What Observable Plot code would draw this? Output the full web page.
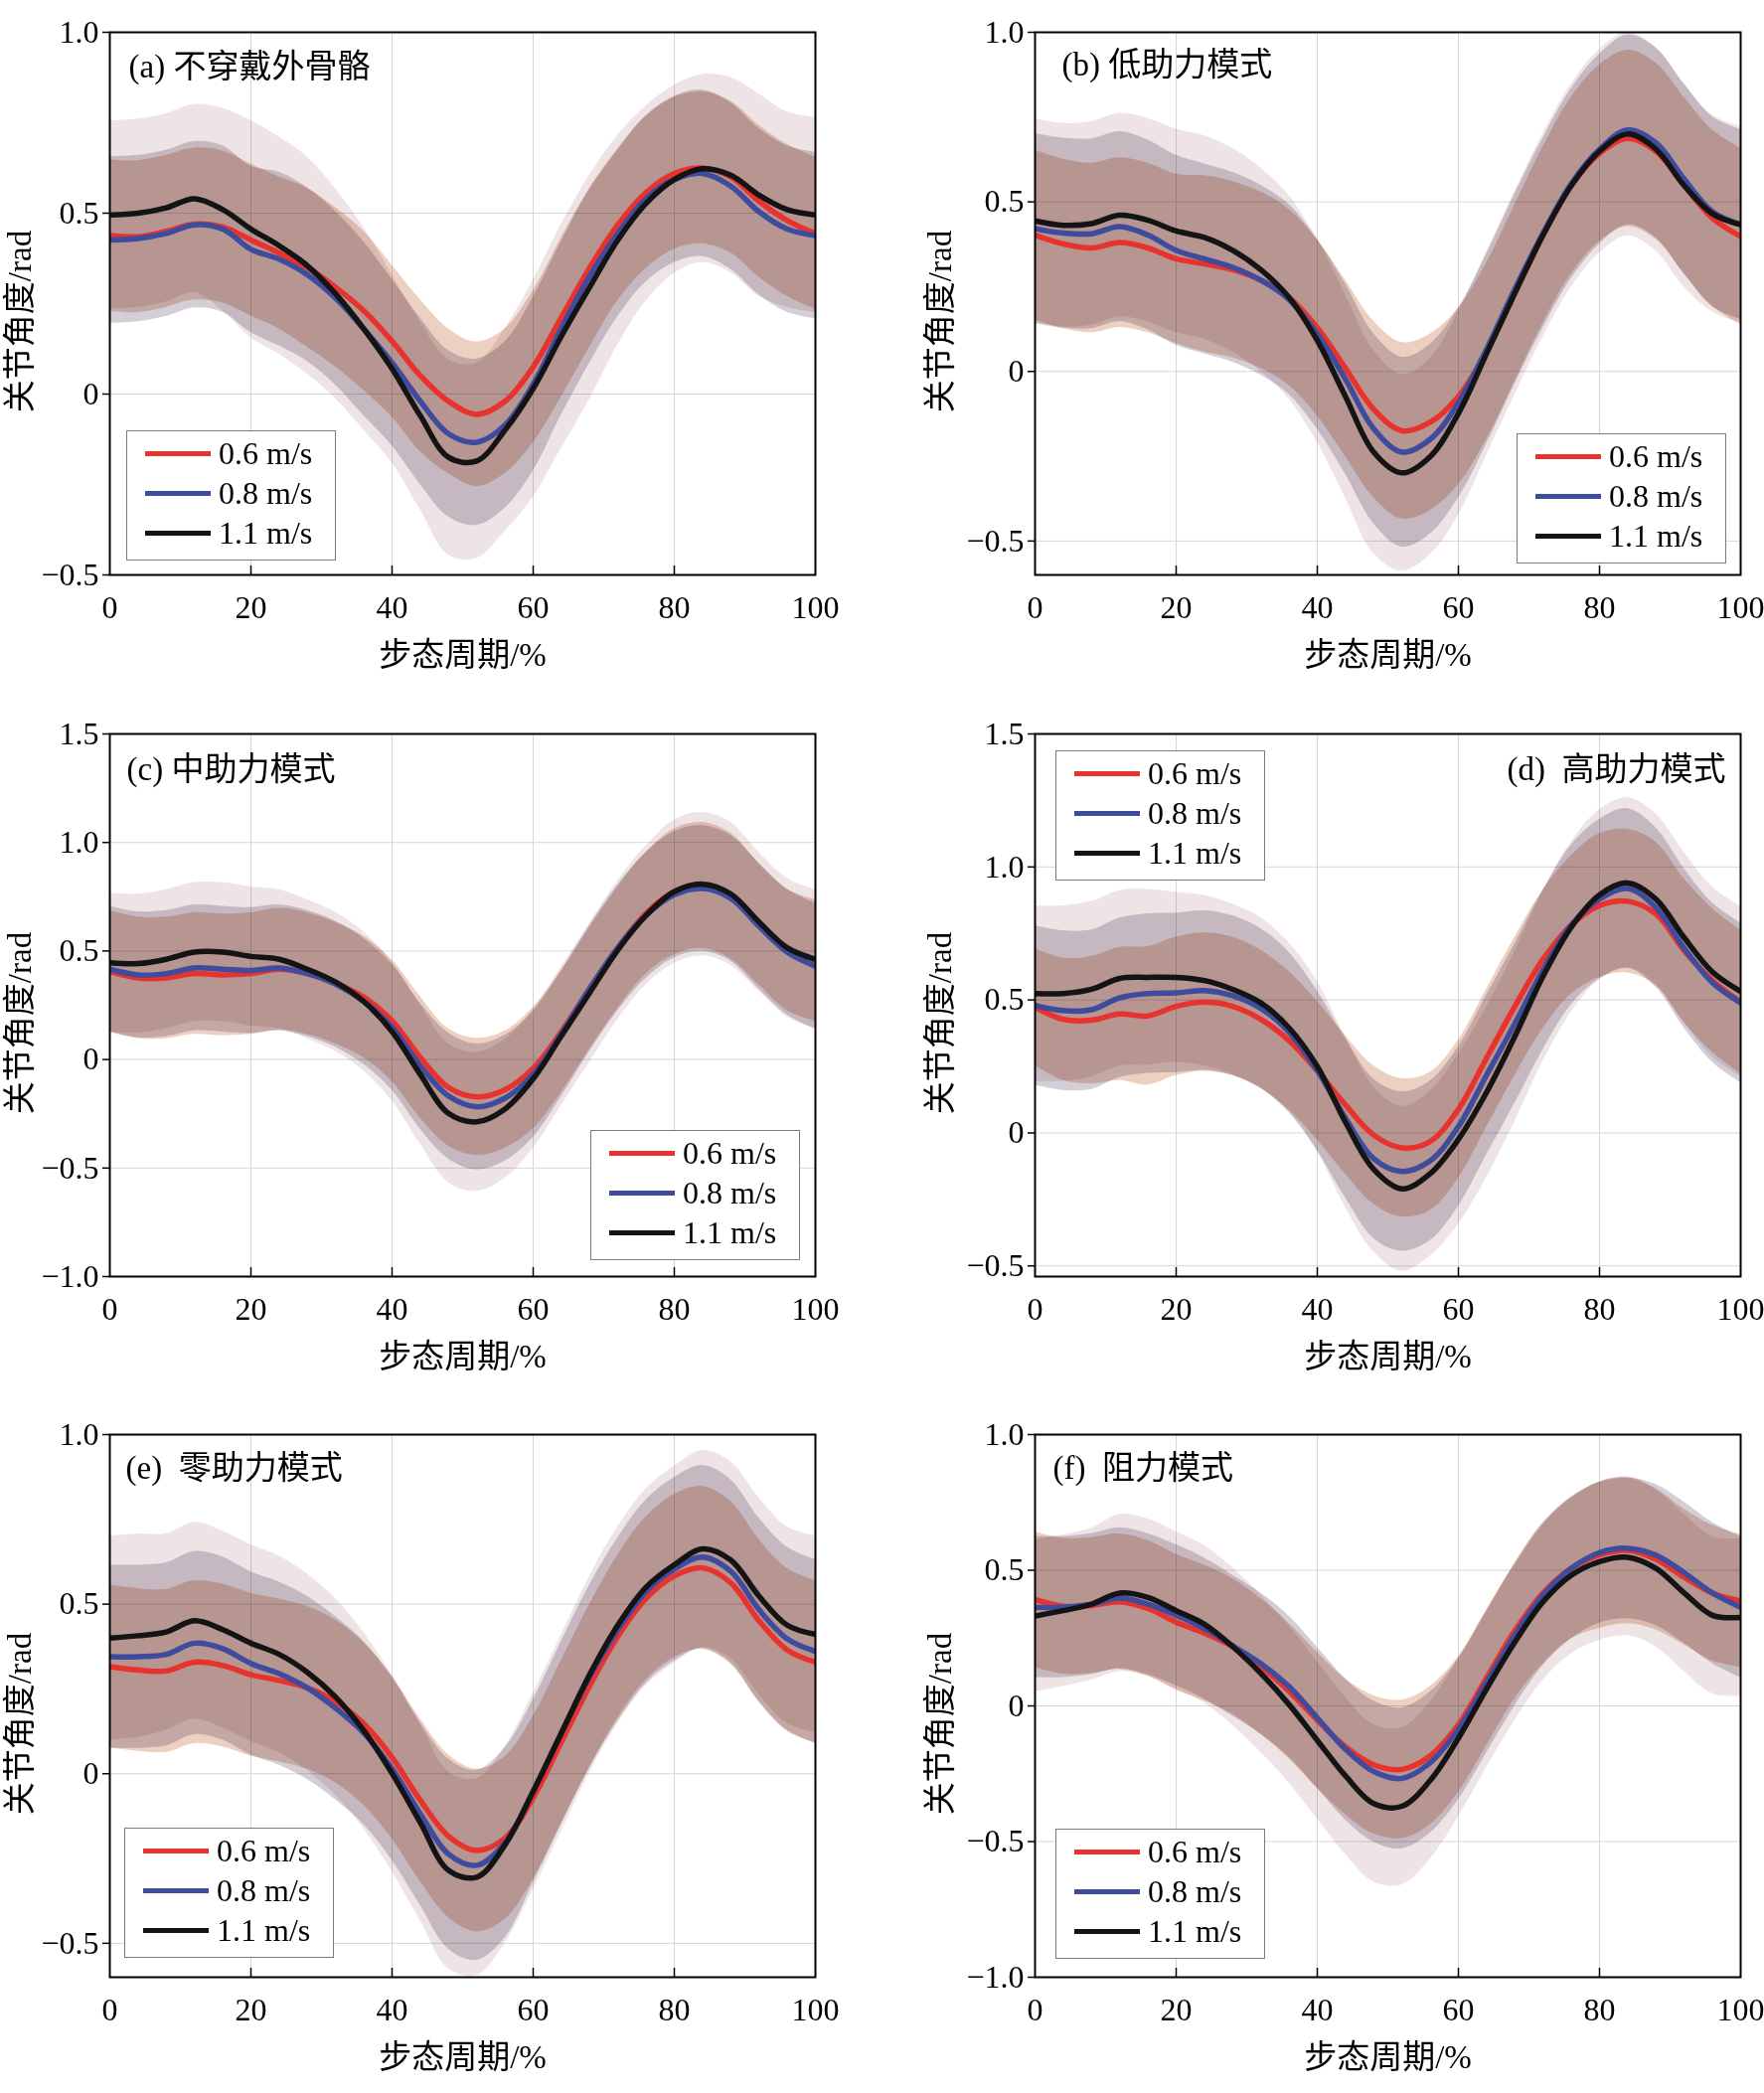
<!DOCTYPE html>
<html>
<head>
<meta charset="utf-8">
<script src="https://cdn.jsdelivr.net/npm/d3@7"></script>
<script src="https://cdn.jsdelivr.net/npm/@observablehq/plot@0.6"></script>
<style>
  body { margin: 0; background: #fff; }
  #wrap { position: relative; width: 1775px; height: 2106px; overflow: hidden; background: #fff;
          font-family: 'Liberation Serif', 'Noto Sans CJK SC', serif; }
  .panel { position: absolute; }
  .legend { position: absolute; background: #fff; border: 1.5px solid #7a7a7a; box-sizing: border-box; }
  .legend .row { position: absolute; left: 0; height: 40px; width: 100%; }
  .legend .sw { position: absolute; left: 18px; width: 66px; height: 5px; top: 17.5px; }
  .legend .lb { position: absolute; left: 92px; top: 0; height: 40px; line-height: 40px; font-size: 32px; color: #000; white-space: nowrap; }
</style>
</head>
<body>
<div id="wrap"></div>
<script>
// ---------------- data ----------------
const xs = [0,4,8,12,16,20,24,28,32,36,40,44,48,52,56,60,64,68,72,76,80,84,88,92,96,100];
const speeds = ["0.6 m/s", "0.8 m/s", "1.1 m/s"];
const lineColors = ["#e8322d", "#3f4c9e", "#141414"];
const bandColors = ["#ecd0c2", "#d4ced6", "#eee4e5"];
const titles = ["(a) 不穿戴外骨骼", "(b) 低助力模式", "(c) 中助力模式", "(d)\u00a0 高助力模式", "(e)\u00a0 零助力模式", "(f)\u00a0 阻力模式"];
const xTicks = [0, 20, 40, 60, 80, 100];
const xLabel = "步态周期/%";
const yLabel = "关节角度/rad";

// (a) 不穿戴外骨骼
const meanA06 = [0.438,0.435,0.45,0.47,0.462,0.426,0.39,0.349,0.295,0.23,0.146,0.051,-0.02,-0.056,-0.02,0.075,0.212,0.349,0.468,0.557,0.61,0.625,0.60,0.533,0.48,0.444];
const meanA08 = [0.426,0.43,0.444,0.468,0.456,0.40,0.373,0.33,0.265,0.18,0.087,-0.02,-0.11,-0.133,-0.086,0.027,0.182,0.325,0.444,0.54,0.593,0.61,0.575,0.504,0.456,0.438];
const meanA11 = [0.495,0.50,0.515,0.54,0.51,0.456,0.41,0.355,0.277,0.18,0.07,-0.06,-0.175,-0.185,-0.10,0.015,0.16,0.295,0.426,0.527,0.593,0.623,0.605,0.55,0.51,0.495];
const sdA06 = [0.21,0.21,0.21,0.21,0.21,0.21,0.21,0.22,0.22,0.22,0.21,0.21,0.2,0.2,0.2,0.21,0.22,0.22,0.21,0.21,0.21,0.21,0.21,0.21,0.21,0.21];
const sdA08 = [0.23,0.23,0.23,0.23,0.23,0.23,0.24,0.24,0.24,0.24,0.23,0.23,0.23,0.23,0.23,0.24,0.24,0.24,0.23,0.23,0.23,0.23,0.23,0.23,0.23,0.23];
const sdA11 = [0.26,0.26,0.26,0.26,0.28,0.30,0.30,0.30,0.29,0.28,0.26,0.26,0.27,0.27,0.28,0.30,0.31,0.31,0.29,0.27,0.26,0.26,0.27,0.28,0.27,0.27];

// (b) 低助力模式
const meanB06 = [0.402,0.376,0.364,0.38,0.364,0.332,0.317,0.30,0.269,0.218,0.129,0.009,-0.112,-0.175,-0.15,-0.074,0.06,0.231,0.402,0.548,0.643,0.687,0.649,0.548,0.452,0.398];
const meanB08 = [0.421,0.408,0.406,0.427,0.402,0.357,0.332,0.307,0.269,0.212,0.11,-0.023,-0.169,-0.238,-0.20,-0.093,0.066,0.243,0.408,0.554,0.655,0.712,0.674,0.567,0.471,0.433];
const meanB11 = [0.444,0.431,0.436,0.461,0.446,0.414,0.395,0.357,0.30,0.218,0.091,-0.074,-0.238,-0.299,-0.251,-0.124,0.053,0.231,0.402,0.548,0.649,0.70,0.655,0.548,0.465,0.433];
const sdB06 = [0.25,0.25,0.25,0.25,0.25,0.25,0.26,0.26,0.26,0.26,0.26,0.26,0.26,0.26,0.26,0.26,0.26,0.26,0.26,0.26,0.26,0.26,0.26,0.26,0.26,0.26];
const sdB08 = [0.28,0.28,0.28,0.28,0.28,0.28,0.28,0.28,0.28,0.28,0.28,0.28,0.28,0.28,0.28,0.28,0.28,0.28,0.28,0.28,0.28,0.28,0.28,0.28,0.28,0.28];
const sdB11 = [0.30,0.30,0.30,0.30,0.30,0.30,0.30,0.30,0.30,0.30,0.30,0.30,0.30,0.29,0.29,0.30,0.30,0.30,0.30,0.30,0.30,0.30,0.30,0.30,0.29,0.29];

// (c) 中助力模式
const meanC06 = [0.406,0.376,0.376,0.396,0.39,0.396,0.416,0.396,0.351,0.287,0.178,0.01,-0.129,-0.172,-0.139,-0.04,0.129,0.327,0.515,0.674,0.773,0.802,0.753,0.624,0.505,0.456];
const meanC08 = [0.416,0.39,0.396,0.422,0.416,0.41,0.422,0.396,0.347,0.267,0.149,-0.03,-0.168,-0.218,-0.178,-0.069,0.119,0.327,0.515,0.664,0.759,0.788,0.743,0.614,0.495,0.43];
const meanC11 = [0.446,0.442,0.462,0.495,0.495,0.475,0.462,0.416,0.357,0.267,0.129,-0.069,-0.248,-0.287,-0.228,-0.089,0.109,0.307,0.505,0.664,0.773,0.808,0.763,0.634,0.515,0.462];
const sdC06 = [0.28,0.28,0.28,0.28,0.28,0.28,0.28,0.28,0.28,0.28,0.28,0.28,0.27,0.27,0.27,0.28,0.28,0.28,0.28,0.28,0.29,0.29,0.29,0.28,0.28,0.28];
const sdC08 = [0.29,0.29,0.29,0.29,0.29,0.29,0.29,0.29,0.29,0.29,0.29,0.29,0.29,0.29,0.29,0.29,0.29,0.29,0.29,0.29,0.29,0.29,0.29,0.29,0.29,0.29];
const sdC11 = [0.32,0.32,0.32,0.32,0.32,0.32,0.32,0.32,0.32,0.32,0.32,0.32,0.32,0.32,0.32,0.32,0.32,0.32,0.32,0.32,0.33,0.33,0.33,0.32,0.32,0.32];

// (d) 高助力模式
const meanD06 = [0.473,0.427,0.424,0.447,0.44,0.476,0.492,0.476,0.427,0.347,0.234,0.105,-0.008,-0.056,-0.032,0.089,0.282,0.476,0.653,0.782,0.855,0.871,0.823,0.685,0.573,0.492];
const meanD08 = [0.479,0.46,0.463,0.508,0.524,0.527,0.535,0.516,0.468,0.379,0.234,0.056,-0.097,-0.145,-0.105,0.024,0.218,0.411,0.613,0.782,0.879,0.919,0.847,0.694,0.565,0.489];
const meanD11 = [0.524,0.524,0.54,0.581,0.585,0.585,0.573,0.54,0.489,0.395,0.25,0.04,-0.137,-0.21,-0.153,-0.024,0.153,0.363,0.589,0.774,0.895,0.94,0.879,0.734,0.605,0.532];
const sdD06 = [0.22,0.23,0.24,0.25,0.26,0.26,0.26,0.26,0.26,0.26,0.26,0.26,0.26,0.26,0.26,0.26,0.26,0.26,0.26,0.26,0.27,0.27,0.27,0.27,0.27,0.27];
const sdD08 = [0.30,0.30,0.30,0.30,0.30,0.30,0.30,0.30,0.30,0.30,0.30,0.30,0.30,0.30,0.30,0.30,0.30,0.30,0.30,0.30,0.30,0.30,0.30,0.30,0.30,0.30];
const sdD11 = [0.33,0.33,0.33,0.33,0.33,0.32,0.32,0.32,0.32,0.32,0.32,0.32,0.31,0.31,0.31,0.32,0.32,0.32,0.32,0.32,0.32,0.32,0.32,0.32,0.32,0.32];

// (e) 零助力模式
const meanE06 = [0.316,0.306,0.303,0.329,0.319,0.292,0.275,0.253,0.213,0.147,0.048,-0.078,-0.184,-0.226,-0.19,-0.071,0.094,0.259,0.405,0.517,0.583,0.607,0.563,0.451,0.365,0.329];
const meanE08 = [0.345,0.345,0.352,0.385,0.369,0.325,0.295,0.253,0.193,0.12,0.015,-0.118,-0.237,-0.27,-0.204,-0.052,0.12,0.286,0.425,0.537,0.603,0.639,0.597,0.484,0.398,0.361];
const meanE11 = [0.40,0.407,0.418,0.451,0.425,0.385,0.352,0.299,0.226,0.127,0.001,-0.144,-0.285,-0.305,-0.21,-0.052,0.12,0.292,0.438,0.55,0.616,0.663,0.63,0.524,0.438,0.411];
const sdE06 = [0.24,0.24,0.24,0.24,0.24,0.24,0.24,0.24,0.24,0.24,0.24,0.24,0.24,0.24,0.24,0.24,0.24,0.24,0.24,0.24,0.24,0.24,0.24,0.24,0.24,0.24];
const sdE08 = [0.27,0.27,0.27,0.27,0.27,0.27,0.27,0.27,0.27,0.27,0.27,0.27,0.28,0.28,0.28,0.27,0.27,0.27,0.27,0.27,0.27,0.27,0.27,0.27,0.27,0.27];
const sdE11 = [0.30,0.30,0.29,0.29,0.29,0.29,0.29,0.29,0.29,0.29,0.29,0.29,0.29,0.29,0.29,0.29,0.29,0.29,0.29,0.29,0.29,0.29,0.29,0.29,0.29,0.29];

// (f) 阻力模式
const meanF06 = [0.392,0.367,0.37,0.384,0.359,0.309,0.268,0.219,0.145,0.054,-0.053,-0.151,-0.217,-0.234,-0.184,-0.069,0.104,0.277,0.416,0.507,0.556,0.573,0.54,0.474,0.416,0.387];
const meanF08 = [0.364,0.364,0.375,0.397,0.375,0.334,0.285,0.222,0.156,0.071,-0.044,-0.16,-0.242,-0.267,-0.209,-0.086,0.087,0.26,0.408,0.507,0.565,0.581,0.556,0.491,0.416,0.364];
const meanF11 = [0.331,0.351,0.375,0.416,0.40,0.351,0.301,0.219,0.12,0.005,-0.127,-0.258,-0.36,-0.37,-0.275,-0.119,0.063,0.235,0.384,0.482,0.532,0.548,0.507,0.416,0.334,0.326];
const sdF06 = [0.25,0.25,0.25,0.25,0.25,0.25,0.25,0.25,0.25,0.25,0.25,0.25,0.255,0.255,0.255,0.25,0.25,0.25,0.26,0.26,0.27,0.27,0.26,0.25,0.25,0.245];
const sdF08 = [0.26,0.26,0.26,0.26,0.26,0.26,0.26,0.26,0.26,0.26,0.26,0.26,0.26,0.26,0.26,0.26,0.26,0.26,0.26,0.26,0.26,0.26,0.26,0.26,0.26,0.26];
const sdF11 = [0.28,0.28,0.28,0.29,0.29,0.29,0.29,0.29,0.29,0.29,0.29,0.29,0.29,0.29,0.29,0.29,0.29,0.29,0.29,0.29,0.29,0.29,0.29,0.29,0.29,0.29];

// --------------- layout (styles only) ---------------
const cols = [
  {left: 0,   width: 880, mL: 110, mR: 60,  yLabDx: -90},
  {left: 900, width: 875, mL: 141, mR: 24,  yLabDx: -95}
];
const rowTops = [0, 706, 1411];
const mT = 32, mB = 100, H = 678;

const panels = [
  {col: 0, row: 0, title: titles[0], tAnchor: "left",  tdx: 19, tdy: 35, yDomain: [-0.5, 1.0],  yTicks: [-0.5, 0, 0.5, 1.0], legend: [127, 433],
   means: [meanA06, meanA08, meanA11], sds: [sdA06, sdA08, sdA11]},
  {col: 1, row: 0, title: titles[1], tAnchor: "left",  tdx: 27, tdy: 33, yDomain: [-0.6, 1.0],  yTicks: [-0.5, 0, 0.5, 1.0], legend: [1526, 436],
   means: [meanB06, meanB08, meanB11], sds: [sdB06, sdB08, sdB11]},
  {col: 0, row: 1, title: titles[2], tAnchor: "left",  tdx: 17, tdy: 36, yDomain: [-1.0, 1.5],  yTicks: [-1.0, -0.5, 0, 0.5, 1.0, 1.5], legend: [594, 1137],
   means: [meanC06, meanC08, meanC11], sds: [sdC06, sdC08, sdC11]},
  {col: 1, row: 1, title: titles[3], tAnchor: "right", tdx: -15, tdy: 36, yDomain: [-0.54, 1.5], yTicks: [-0.5, 0, 0.5, 1.0, 1.5], legend: [1062, 755],
   means: [meanD06, meanD08, meanD11], sds: [sdD06, sdD08, sdD11]},
  {col: 0, row: 2, title: titles[4], tAnchor: "left",  tdx: 16, tdy: 34, yDomain: [-0.6, 1.0],  yTicks: [-0.5, 0, 0.5, 1.0], legend: [125, 1839],
   means: [meanE06, meanE08, meanE11], sds: [sdE06, sdE08, sdE11]},
  {col: 1, row: 2, title: titles[5], tAnchor: "left",  tdx: 18, tdy: 34, yDomain: [-1.0, 1.0],  yTicks: [-1.0, -0.5, 0, 0.5, 1.0], legend: [1062, 1840],
   means: [meanF06, meanF08, meanF11], sds: [sdF06, sdF08, sdF11]}
];

const fmtY = d => d === 0 ? "0" : d3.format(".1f")(d);
const wrap = document.getElementById("wrap");

panels.forEach(p => {
  const c = cols[p.col];
  const plotH = H - mT - mB;
  const series = speeds.map((k, si) =>
    xs.map((x, i) => ({x, m: p.means[si][i], s: p.sds[si][i], k})));

  const marks = [
    Plot.ruleX([20, 40, 60, 80], {stroke: "#d6d6d6", strokeWidth: 1}),
    Plot.ruleY(p.yTicks, {stroke: "#d6d6d6", strokeWidth: 1}),
  ];
  // bands: black (1.1), blue (0.8), red (0.6)
  [2, 1, 0].forEach(si => {
    marks.push(Plot.areaY(series[si], {
      x: "x", y1: d => d.m - d.s, y2: d => d.m + d.s,
      fill: bandColors[si], fillOpacity: 1, curve: "catmull-rom",
      mixBlendMode: "multiply", clip: true
    }));
  });
  [0, 1, 2].forEach(si => {
    marks.push(Plot.line(series[si], {
      x: "x", y: "m", stroke: lineColors[si], strokeWidth: 5.5,
      curve: "catmull-rom", clip: true
    }));
  });
  marks.push(
    Plot.frame({stroke: "#000", strokeWidth: 2}),
    Plot.axisY({ticks: p.yTicks, tickSize: 7, tickPadding: 4, tickFormat: fmtY, fontSize: 32, label: null, stroke: "#000", strokeWidth: 1.5}),
    Plot.axisX({ticks: xTicks, tickSize: 0, tickPadding: 21, tickFormat: d => String(d), fontSize: 32, label: null}),
    Plot.tickX([20, 40, 60, 80], {x: d => d, insetTop: plotH - 9, stroke: "#000", strokeWidth: 1.5}),
    Plot.text([p.title], {
      text: d => d, frameAnchor: p.tAnchor === "left" ? "top-left" : "top-right",
      textAnchor: p.tAnchor === "left" ? "start" : "end", lineAnchor: "middle",
      dx: p.tdx, dy: p.tdy, fontSize: 33, fill: "#000"
    }),
    Plot.text([yLabel], {
      text: d => d, frameAnchor: "left", rotate: -90, dx: c.yLabDx, dy: 18,
      textAnchor: "middle", lineAnchor: "middle", fontSize: 33, fill: "#000"
    }),
    Plot.text([xLabel], {
      text: d => d, frameAnchor: "bottom", dy: 81, textAnchor: "middle",
      lineAnchor: "middle", fontSize: 33, fill: "#000"
    })
  );

  const chart = Plot.plot({
    width: c.width, height: H,
    marginLeft: c.mL, marginRight: c.mR, marginTop: mT, marginBottom: mB,
    x: {domain: [0, 100]},
    y: {domain: p.yDomain},
    style: {fontFamily: "'Liberation Serif', 'Noto Sans CJK SC', serif", fontSize: "32px", background: "transparent", overflow: "visible", color: "#000"},
    marks
  });
  // bands blend multiplicatively (overlaps darken, as in the reference)
  chart.querySelectorAll('g[aria-label="area"]').forEach(g => {
    g.style.mixBlendMode = "multiply";
  });
  const holder = document.createElement("div");
  holder.className = "panel";
  holder.style.left = c.left + "px";
  holder.style.top = rowTops[p.row] + "px";
  holder.appendChild(chart);
  wrap.appendChild(holder);

  // legend (HTML, over the plot)
  const lg = document.createElement("div");
  lg.className = "legend";
  lg.style.left = p.legend[0] + "px";
  lg.style.top = p.legend[1] + "px";
  lg.style.width = "211px";
  lg.style.height = "131px";
  speeds.forEach((k, si) => {
    const row = document.createElement("div");
    row.className = "row";
    row.style.top = (2 + si * 40) + "px";
    const sw = document.createElement("div");
    sw.className = "sw";
    sw.style.background = lineColors[si];
    const lb = document.createElement("div");
    lb.className = "lb";
    lb.textContent = k;
    row.appendChild(sw);
    row.appendChild(lb);
    lg.appendChild(row);
  });
  wrap.appendChild(lg);
});
</script>
</body>
</html>
